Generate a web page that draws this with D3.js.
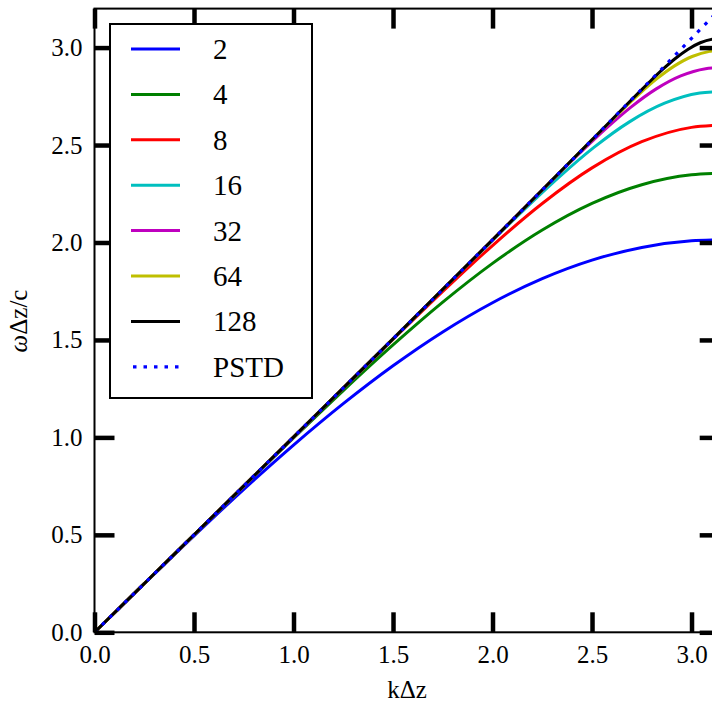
<!DOCTYPE html>
<html>
<head>
<meta charset="utf-8">
<script src="https://cdn.jsdelivr.net/npm/d3@7"></script>
<style>
  html, body { margin: 0; padding: 0; background: #fff; }
  svg { display: block; }
  svg text { font-family: "Liberation Serif", "Times New Roman", "DejaVu Serif", serif; }
</style>
</head>
<body>
<div id="chart"></div>
<script>
// ---------- data ----------
const seriesNames = ["2", "4", "8", "16", "32", "64", "128", "PSTD"];
const seriesColors = ["#0000ff", "#008000", "#ff0000", "#00bfbf", "#bf00bf", "#bfbf00", "#000000", "#0000ff"];

const k_2 = [0, 0.25, 0.5, 0.75, 1, 1.25, 1.5, 1.75, 2, 2.25, 2.5, 2.75, 3, 3.1416];
const w_2 = [0, 0.2494, 0.4950, 0.7332, 0.9604, 1.1729, 1.3675, 1.5412, 1.6910, 1.8145, 1.9096, 1.9746, 2.0085, 2.0136];

const k_4 = [0, 0.25, 0.5, 0.75, 1, 1.25, 1.5, 1.75, 2, 2.25, 2.5, 2.75, 3, 3.1416];
const w_4 = [0, 0.2500, 0.5001, 0.7496, 0.9972, 1.2401, 1.4742, 1.6939, 1.8928, 2.0640, 2.2006, 2.2965, 2.3473, 2.3554];

const k_8 = [0, 0.5, 1, 1.25, 1.5, 1.75, 2, 2.25, 2.5, 2.75, 3, 3.1416];
const w_8 = [0, 0.5002, 1.0015, 1.2528, 1.5027, 1.7487, 1.9845, 2.2002, 2.3827, 2.5171, 2.5906, 2.6019];

const k_16 = [0, 0.5, 1, 1.5, 1.9808, 2.1576, 2.3344, 2.5111, 2.6879, 2.8647, 3.0415, 3.1416];
const w_16 = [0, 0.5002, 1.0017, 1.5056, 1.9919, 2.1673, 2.3354, 2.4891, 2.6189, 2.7145, 2.7667, 2.7747];

const k_32 = [0, 0.5, 1, 1.5, 2, 2.3208, 2.4458, 2.5708, 2.6958, 2.8208, 2.9458, 3.0708, 3.1416];
const w_32 = [0, 0.5002, 1.0017, 1.5057, 2.0136, 2.3406, 2.4656, 2.5852, 2.6946, 2.7868, 2.8547, 2.8918, 2.8975];

const k_64 = [0, 0.5, 1, 1.5, 2, 2.25, 2.5612, 2.6496, 2.7380, 2.8264, 2.9148, 3.0031, 3.0915, 3.1416];
const w_64 = [0, 0.5002, 1.0017, 1.5057, 2.0136, 2.2694, 2.5890, 2.6779, 2.7629, 2.8406, 2.9061, 2.9542, 2.9805, 2.9846];

const k_128 = [0, 0.5, 1, 1.5, 2, 2.5, 2.7312, 2.7937, 2.8562, 2.9187, 2.9812, 3.0437, 3.1062, 3.1416];
const w_128 = [0, 0.5002, 1.0017, 1.5057, 2.0136, 2.5268, 2.7656, 2.8287, 2.8891, 2.9442, 2.9906, 3.0248, 3.0434, 3.0462];

const k_pstd = [0, 0.5, 1, 1.5, 2, 2.25, 2.5, 2.75, 2.9, 3, 3.1416];
const w_pstd = [0, 0.5002, 1.0017, 1.5057, 2.0136, 2.2694, 2.5268, 2.7859, 2.9423, 3.0469, 3.1964];

const xTicks = [0, 0.5, 1.0, 1.5, 2.0, 2.5, 3.0];
const yTicks = [0, 0.5, 1.0, 1.5, 2.0, 2.5, 3.0];
const xLabel = "kΔz";

const seriesK = [k_2, k_4, k_8, k_16, k_32, k_64, k_128, k_pstd];
const seriesW = [w_2, w_4, w_8, w_16, w_32, w_64, w_128, w_pstd];

// ---------- layout ----------
const W = 712, H = 704;
const pL = 94.5, pR = 719.7, pT = 8.6, pB = 632.3;

const svg = d3.select("#chart").append("svg")
  .attr("width", W).attr("height", H);

const x = d3.scaleLinear().domain([0, Math.PI]).range([pL, pR]);
const y = d3.scaleLinear().domain([0, 3.2]).range([pB, pT]);

svg.append("defs").append("clipPath").attr("id", "plotclip")
  .append("rect").attr("x", pL).attr("y", pT)
  .attr("width", pR - pL).attr("height", pB - pT);

// ---------- curves ----------
const line = d3.line().x(d => x(d[0])).y(d => y(d[1])).curve(d3.curveMonotoneX);
const gCurves = svg.append("g").attr("clip-path", "url(#plotclip)");
seriesNames.forEach((name, i) => {
  const pts = seriesK[i].map((k, j) => [k, seriesW[i][j]]);
  const p = gCurves.append("path")
    .attr("d", line(pts))
    .attr("fill", "none")
    .attr("stroke", seriesColors[i])
    .attr("stroke-width", 3);
  if (name === "PSTD") p.attr("stroke-dasharray", "3.5,7").attr("stroke-width", 3.2);
});

// ---------- axes ----------
const tickLen = 20;
function styleAxis(g) {
  g.attr("font-family", null).attr("font-size", null);
  g.select(".domain").remove();
  g.selectAll(".tick line").attr("stroke", "#000").attr("stroke-width", 4.5);
  g.selectAll(".tick text").attr("fill", "#000").style("font-size", "25px");
}
const fmt = d3.format(".1f");

svg.append("g").attr("transform", `translate(0,${pB})`)
  .call(d3.axisBottom(x).tickValues(xTicks).tickFormat(fmt).tickSize(-tickLen).tickPadding(13))
  .call(styleAxis);
svg.append("g").attr("transform", `translate(0,${pT})`)
  .call(d3.axisTop(x).tickValues(xTicks).tickFormat("").tickSize(-tickLen))
  .call(styleAxis);
svg.append("g").attr("transform", `translate(${pL},0)`)
  .call(d3.axisLeft(y).tickValues(yTicks).tickFormat(fmt).tickSize(-tickLen).tickPadding(12))
  .call(styleAxis);
svg.append("g").attr("transform", `translate(${pR},0)`)
  .call(d3.axisRight(y).tickValues(yTicks).tickFormat("").tickSize(-tickLen))
  .call(styleAxis);

// spines
svg.append("rect").attr("x", pL).attr("y", pT)
  .attr("width", pR - pL).attr("height", pB - pT)
  .attr("fill", "none").attr("stroke", "#000").attr("stroke-width", 2);

// ---------- legend ----------
const lg = svg.append("g");
lg.append("rect").attr("x", 110).attr("y", 24).attr("width", 202).attr("height", 374)
  .attr("fill", "#fff").attr("stroke", "#000").attr("stroke-width", 2);
seriesNames.forEach((name, i) => {
  const yy = 49 + i * 45.4;
  const l = lg.append("line").attr("x1", 131).attr("x2", 180).attr("y1", yy).attr("y2", yy)
    .attr("stroke", seriesColors[i]).attr("stroke-width", 3);
  if (name === "PSTD") l.attr("stroke-dasharray", "3.5,7").attr("stroke-width", 3.2).attr("x1", 133);
  lg.append("text").attr("x", 213).attr("y", yy + 10)
    .style("font-size", "29px").attr("fill", "#000").text(name);
});

// ---------- axis labels ----------
svg.append("text").attr("x", (pL + pR) / 2).attr("y", 698)
  .attr("text-anchor", "middle").style("font-size", "25px").text(xLabel);

const yl = svg.append("text").attr("transform", "translate(27,321) rotate(-90)")
  .attr("text-anchor", "middle").style("font-size", "25px");
yl.append("tspan").style("font-style", "italic").text("ω");
yl.append("tspan").text("Δz/c");
</script>
</body>
</html>
